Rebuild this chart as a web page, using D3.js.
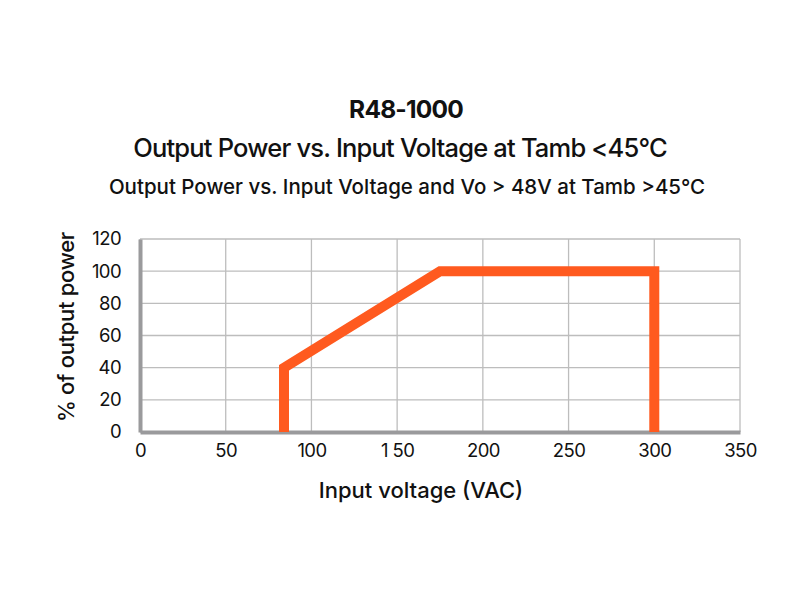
<!DOCTYPE html>
<html>
<head>
<meta charset="utf-8">
<script src="https://cdn.jsdelivr.net/npm/d3@7"></script>
<style>
  body { margin: 0; background: #fff; }
  text { font-family: Inter, "Open Sans", sans-serif; fill: #111; }
</style>
</head>
<body>
<svg id="chart"></svg>
<script>
// values
const voltage = [84, 84, 175, 300, 300];
const power = [0, 40, 100, 100, 0];
const xTicks = [0, 50, 100, 150, 200, 250, 300, 350];
const xTickLabels = ["0", "50", "100", "1 50", "200", "250", "300", "350"];
const yTicks = [0, 20, 40, 60, 80, 100, 120];
const titles = [
    "R48-1000",
    "Output Power vs. Input Voltage at Tamb <45°C",
    "Output Power vs. Input Voltage and Vo > 48V at Tamb >45°C"
];

const width = 800, height = 600;
const margin = {top: 239, right: 60, bottom: 168, left: 140};
const innerW = width - margin.left - margin.right;
const innerH = height - margin.top - margin.bottom;

const svg = d3.select('#chart')
    .attr('width', width)
    .attr('height', height);

const chart = svg.append('g')
    .attr('transform', `translate(${margin.left}, ${margin.top})`);

const xscale = d3.scaleLinear().domain([0, 350]).range([0, innerW]);
const yscale = d3.scaleLinear().domain([0, 120]).range([innerH, 0]);

// grid
chart.append('g')
    .selectAll('line.vg')
    .data(xTicks)
    .join('line')
    .attr('x1', d => xscale(d)).attr('x2', d => xscale(d))
    .attr('y1', 0).attr('y2', innerH)
    .attr('stroke', '#bdbdbd').attr('stroke-width', 1.3);

chart.append('g')
    .selectAll('line.hg')
    .data(yTicks)
    .join('line')
    .attr('x1', 0).attr('x2', innerW)
    .attr('y1', d => yscale(d)).attr('y2', d => yscale(d))
    .attr('stroke', '#bdbdbd').attr('stroke-width', 1.3);

// axes
const xaxis = d3.axisBottom(xscale)
    .tickValues(xTicks)
    .tickSize(0)
    .tickPadding(12)
    .tickFormat((d, i) => xTickLabels[i]);

const yaxis = d3.axisLeft(yscale)
    .tickValues(yTicks)
    .tickSize(0)
    .tickPadding(19);

const xg = chart.append('g')
    .attr('transform', `translate(0, ${innerH})`)
    .call(xaxis);
xg.select('.domain').attr('stroke', '#9a9a9c').attr('stroke-width', 4);
xg.selectAll('text').attr('font-size', 18.5).attr('letter-spacing', -0.6).style('fill', '#111');

const yg = chart.append('g').call(yaxis);
yg.select('.domain').attr('stroke', '#9a9a9c').attr('stroke-width', 4);
yg.selectAll('text').attr('font-size', 18.5).attr('letter-spacing', -0.6).style('fill', '#111');

// the curve
const line = d3.line()
    .x((d, i) => xscale(voltage[i]))
    .y((d, i) => yscale(power[i]));

chart.append('path')
    .attr('d', line(voltage))
    .attr('fill', 'none')
    .attr('stroke', '#ff5a1f')
    .attr('stroke-width', 10)
    .attr('stroke-linejoin', 'miter')
    .attr('stroke-linecap', 'butt');

// titles
svg.append('text')
    .attr('x', 406).attr('y', 118)
    .attr('text-anchor', 'middle')
    .attr('font-size', 24.5).attr('font-weight', 'bold')
    .attr('letter-spacing', -0.8)
    .text(titles[0]);

svg.append('text')
    .attr('x', 400).attr('y', 157)
    .attr('text-anchor', 'middle')
    .attr('font-size', 25.5).attr('font-weight', 500)
    .attr('letter-spacing', -0.8)
    .text(titles[1]);

svg.append('text')
    .attr('x', 407).attr('y', 194)
    .attr('text-anchor', 'middle')
    .attr('font-size', 20.5).attr('font-weight', 500)
    .attr('letter-spacing', 0)
    .text(titles[2]);

// axis titles
svg.append('text')
    .attr('x', 421).attr('y', 498)
    .attr('text-anchor', 'middle')
    .attr('font-size', 22).attr('font-weight', 500)
    .attr('letter-spacing', 0)
    .text('Input voltage (VAC)');

svg.append('text')
    .attr('transform', 'translate(74, 327) rotate(-90)')
    .attr('text-anchor', 'middle')
    .attr('font-size', 22).attr('font-weight', 500)
    .attr('letter-spacing', -0.3)
    .text('% of output power');
</script>
</body>
</html>
